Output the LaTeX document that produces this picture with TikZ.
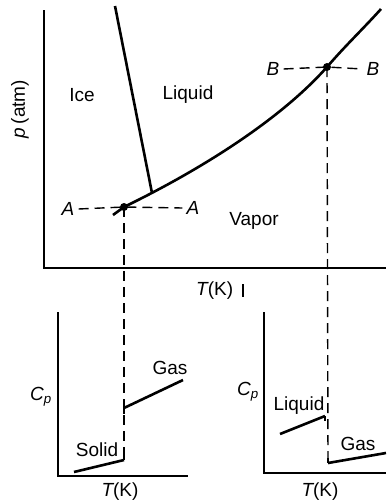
\documentclass[tikz,border=0pt]{standalone}
\usepackage{fontspec}
\setmainfont{Liberation Sans}
\begin{document}
\begin{tikzpicture}[x=1pt,y=-1pt,
  axis/.style={line width=2pt},
  curve/.style={line width=2.6pt},
  dsh/.style={line width=1.4pt,dash pattern=on 10pt off 6pt},
  lbl/.style={font=\fontsize{19}{21}\selectfont,inner sep=0pt},
  ilbl/.style={font=\fontsize{19}{21}\selectfont\itshape,inner sep=0pt},
  dot/.style={circle,fill=black,inner sep=0pt,minimum size=8pt}]
\useasboundingbox (0,0) rectangle (386,501);
% main axes
\coordinate (o) at (44,268);
\coordinate (ytop) at (44,10);
\coordinate (xend) at (386,268);
\draw[axis] (ytop) -- (o) -- (xend);
% curves
\coordinate (c0) at (113,215);
\node[dot] (A) at (124,207) {};
\coordinate (tp) at (152,193);
\node[dot] (B) at (327,67) {};
\coordinate (c1) at (381,9);
\coordinate (ftop) at (115,6);
\draw[curve] (c0) -- (A.center) .. controls (200,170) and (280,120) .. (B.center) .. controls (345,46) and (362,30) .. (c1);
\draw[curve] (ftop) -- (tp);
% labels
\node[lbl] (ice) at (82,95) {Ice};
\node[lbl] (liq) at (188,95) {Liquid};
\node[lbl] (vap) at (254,221) {Vapor};
\node[ilbl,rotate=90] (pl) at (20,109) {p\,\upshape(atm)};
\node[ilbl,anchor=west] (tl) at (196,291) {T\upshape(K)};
\coordinate (tk1) at (243,284);
\coordinate (tk2) at (243,297);
\draw[line width=1.2pt] (tk1) -- (tk2);
% A and B
\node[ilbl] (Al) at (68,209) {A};
\node[ilbl] (Ar) at (193,208) {A};
\node[ilbl] (Bl) at (273,69) {B};
\node[ilbl] (Br) at (373,69) {B};
\draw[dsh] ([xshift=4pt]Al.east) -- (A.center) -- ([xshift=-4pt]Ar.west);
\draw[dsh] ([xshift=4pt]Bl.east) -- (B.center) -- ([xshift=-4pt]Br.west);
% lower left plot
\coordinate (lo) at (58,476);
\coordinate (ly) at (58,312);
\coordinate (lx) at (188,476);
\draw[axis] (ly) -- (lo) -- (lx);
\coordinate (s0) at (74,472);
\coordinate (s1) at (124,460);
\coordinate (g0) at (124,408);
\coordinate (g1) at (183,380);
\draw[curve] (s0) -- (s1);
\draw[curve] (g0) -- (g1);
\draw[line width=1.4pt] (g0) -- ++(0,6);
\draw[line width=1.4pt] (s1) -- ++(0,-6);
\draw[dsh] (A.center) -- (s1);
\node[lbl] (sl) at (97,450) {Solid};
\node[lbl] (gl) at (170,368) {Gas};
\node[ilbl] (cpl) at (41,397) {C\textsubscript{p}};
\node[ilbl] (tl2) at (120,492) {T\upshape(K)};
% lower right plot
\coordinate (ro) at (264,473);
\coordinate (ry) at (264,312);
\coordinate (rx) at (386,473);
\draw[axis] (ry) -- (ro) -- (rx);
\coordinate (l0) at (280,434);
\coordinate (l1) at (325,416);
\coordinate (q0) at (328,463);
\coordinate (q1) at (386,453);
\draw[curve] (l0) -- (l1);
\draw[curve] (q0) -- (q1);
\draw[line width=1.4pt] (q0) -- ++(0,-5);
\draw[line width=1.4pt] (l1) -- ++(0,5);
\draw[dsh] (B.center) -- (q0);
\node[lbl] (ll) at (299,406) {Liquid};
\node[lbl] (gl2) at (358,444) {Gas};
\node[ilbl] (cpr) at (248,392) {C\textsubscript{p}};
\node[ilbl] (tr) at (320,492) {T\upshape(K)};
\end{tikzpicture}
\end{document}
